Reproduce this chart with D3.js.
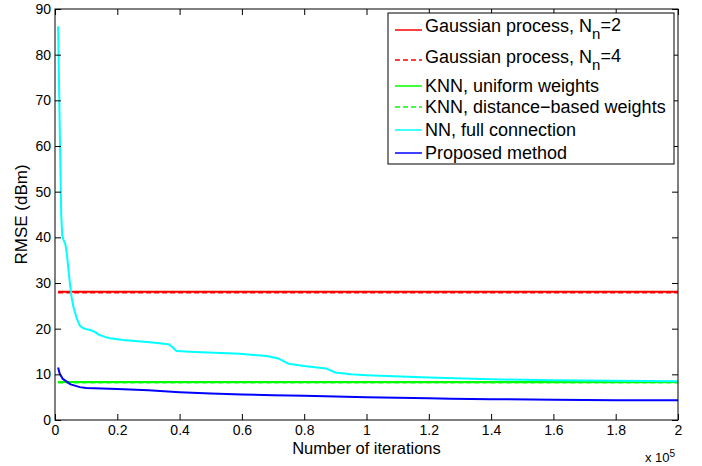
<!DOCTYPE html>
<html>
<head>
<meta charset="utf-8">
<script src="https://cdn.jsdelivr.net/npm/d3@7"></script>
<style>
  body { margin: 0; background: #fff; }
  svg { font-family: "Liberation Sans", Arial, Helvetica, sans-serif; }
</style>
</head>
<body>
<div id="chart-area"></div>
<script>
// values (iterations, RMSE in dBm)
const flatIter = [1000, 200000]
const gpN2 = [28.1, 28.1]
const gpN4 = [27.9, 27.9]
const knnUniform = [8.3, 8.3]
const knnDistance = [8.2, 8.2]

const nnIter = [1000, 1500, 2000, 2300, 2700, 3300, 3800, 4300, 4800, 5300, 5900, 7000, 8000, 9100,
  10500, 11800, 13000, 14000, 16000, 17700, 21900, 30500, 36400, 37500, 39000, 45000, 59400,
  68000, 72000, 75000, 80000, 87000, 90000, 95000, 100000, 120000, 140000, 160000, 180000, 200000]
const nnRmse = [86.2, 65, 45, 40.5, 39.5, 38.5, 36.5, 33, 29.9, 27, 24.8, 22.2, 20.6, 20.1,
  19.8, 19.6, 19.2, 18.7, 18.2, 17.9, 17.5, 17.0, 16.6, 16.1, 15.1, 14.9, 14.5,
  14.0, 13.4, 12.3, 11.8, 11.3, 10.4, 10.0, 9.8, 9.3, 8.9, 8.7, 8.6, 8.5]

const propIter = [1000, 1500, 2500, 5000, 8000, 10000, 20000, 30000, 40000, 50000, 60000, 70000,
  80000, 90000, 100000, 120000, 127000, 140000, 160000, 180000, 200000]
const propRmse = [11.5, 10.2, 9.0, 7.8, 7.2, 7.0, 6.8, 6.5, 6.1, 5.8, 5.6, 5.4,
  5.3, 5.15, 5.0, 4.75, 4.65, 4.55, 4.45, 4.35, 4.3]

const xTickVals = [0, 20000, 40000, 60000, 80000, 100000, 120000, 140000, 160000, 180000, 200000]
const xTickLabels = ["0", "0.2", "0.4", "0.6", "0.8", "1", "1.2", "1.4", "1.6", "1.8", "2"]
const yTickVals = [0, 10, 20, 30, 40, 50, 60, 70, 80, 90]

const seriesNames = ["Gaussian process, N", "Gaussian process, N", "KNN, uniform weights",
  "KNN, distance\u2212based weights", "NN, full connection", "Proposed method"]
const seriesSubs = ["n=2", "n=4", null, null, null, null]

const series = [
  { name: seriesNames[0], sub: seriesSubs[0], x: flatIter, y: gpN2, color: "#ff0000", dash: null },
  { name: seriesNames[1], sub: seriesSubs[1], x: flatIter, y: gpN4, color: "#ff0000", dash: "5,3" },
  { name: seriesNames[2], sub: seriesSubs[2], x: flatIter, y: knnUniform, color: "#00ff00", dash: null },
  { name: seriesNames[3], sub: seriesSubs[3], x: flatIter, y: knnDistance, color: "#00ff00", dash: "5,3" },
  { name: seriesNames[4], sub: seriesSubs[4], x: nnIter, y: nnRmse, color: "#00ffff", dash: null },
  { name: seriesNames[5], sub: seriesSubs[5], x: propIter, y: propRmse, color: "#0000ff", dash: null }
]

const margin = { top: 9, right: 24, bottom: 46, left: 55 }
const width = 702 - margin.left - margin.right,
      height = 466 - margin.top - margin.bottom

const svg = d3.select("#chart-area").append("svg")
    .attr("width", 702)
    .attr("height", 466)

const g = svg.append("g")
    .attr("transform", "translate(" + margin.left + "," + margin.top + ")")

const x = d3.scaleLinear().domain([0, 200000]).range([0, width])
const y = d3.scaleLinear().domain([0, 90]).range([height, 0])

// data lines
const line = d3.line()
    .x(function(d){ return x(d[0]) })
    .y(function(d){ return y(d[1]) })

series.forEach(function(s){
    g.append("path")
        .datum(s.x.map(function(v, i){ return [v, s.y[i]] }))
        .attr("fill", "none")
        .attr("stroke", s.color)
        .attr("stroke-width", 2)
        .attr("stroke-linejoin", "round")
        .attr("stroke-dasharray", s.dash)
        .attr("d", line)
})

// axes, ticks pointing inward like matlab
const tickFont = "14px"
const xAxis = g.append("g")
    .attr("transform", "translate(0," + height + ")")
    .call(d3.axisBottom(x).tickValues(xTickVals).tickSize(-6).tickPadding(5)
        .tickFormat(function(d, i){ return xTickLabels[i] }))
const yAxis = g.append("g")
    .call(d3.axisLeft(y).tickValues(yTickVals).tickSize(-6).tickPadding(4))
const xTop = g.append("g")
    .call(d3.axisTop(x).tickValues(xTickVals).tickSize(-6).tickFormat(""))
const yRight = g.append("g")
    .attr("transform", "translate(" + width + ",0)")
    .call(d3.axisRight(y).tickValues(yTickVals).tickSize(-6).tickFormat(""))

;[xAxis, yAxis, xTop, yRight].forEach(function(a){
    a.select(".domain").remove()
    a.selectAll("line").attr("stroke", "#000")
    a.selectAll("text").attr("fill", "#000").attr("font-size", tickFont)
        .attr("font-family", "Liberation Sans, Arial, sans-serif")
})

g.append("rect")
    .attr("width", width)
    .attr("height", height)
    .attr("fill", "none")
    .attr("stroke", "#000")
    .attr("stroke-width", 1)

// exponent note
const expo = g.append("text")
    .attr("x", width - 33)
    .attr("y", height + 42)
    .attr("font-size", "13px")
    .text("x 10")
expo.append("tspan")
    .attr("dy", "-0.55em")
    .attr("font-size", "10px")
    .text("5")

// axis labels
g.append("text")
    .attr("x", width / 2)
    .attr("y", height + 34)
    .attr("font-size", "16.5px")
    .attr("text-anchor", "middle")
    .text("Number of iterations")

g.append("text")
    .attr("x", -(height / 2))
    .attr("y", -28)
    .attr("font-size", "17px")
    .attr("text-anchor", "middle")
    .attr("transform", "rotate(-90)")
    .text("RMSE (dBm)")

// legend
const legX = 388 - margin.left, legY = 13 - margin.top
const textY = [13, 44, 73, 94, 117, 140]
const sampleY = [17, 47, 73, 94, 117, 140]
const leg = g.append("g").attr("transform", "translate(" + legX + "," + legY + ")")
leg.append("rect")
    .attr("width", 286)
    .attr("height", 151)
    .attr("fill", "#fff")
    .attr("stroke", "#000")

series.forEach(function(s, i){
    leg.append("line")
        .attr("x1", 7).attr("x2", 34)
        .attr("y1", sampleY[i]).attr("y2", sampleY[i])
        .attr("stroke", s.color)
        .attr("stroke-width", 1.5)
        .attr("stroke-dasharray", s.dash)
    const t = leg.append("text")
        .attr("x", 37)
        .attr("y", textY[i])
        .attr("dy", "0.35em")
        .attr("font-size", "18px")
        .text(s.name)
    if (s.sub) {
        t.append("tspan").attr("dy", "0.45em").attr("font-size", "15px").text(s.sub[0])
        t.append("tspan").attr("dy", "-0.45em").text(s.sub.slice(1))
    }
})
</script>
</body>
</html>
